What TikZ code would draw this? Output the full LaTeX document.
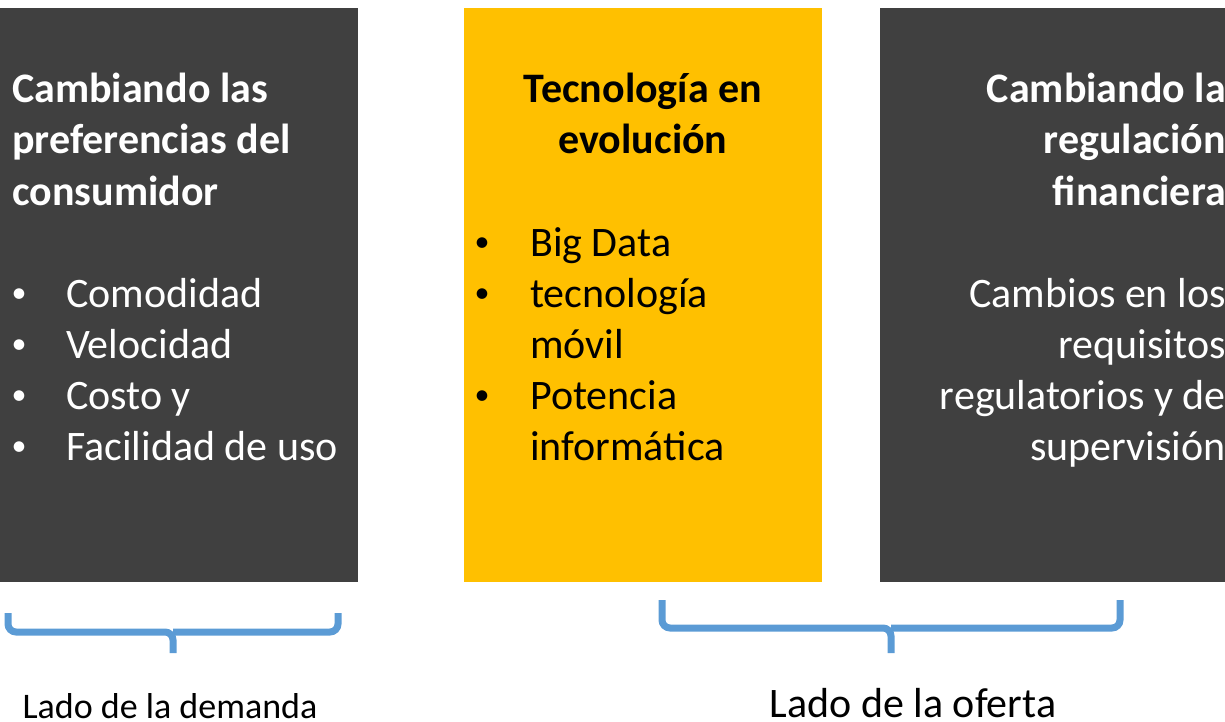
\documentclass[tikz,border=0pt]{standalone}
\usepackage{fontspec}
\setmainfont{Carlito}
\usepackage{tikz}
\usetikzlibrary{positioning}
\usetikzlibrary{calc}
\definecolor{gris}{HTML}{404040}
\definecolor{amarillo}{HTML}{FFC000}
\definecolor{azul}{HTML}{5B9BD5}
\tikzset{caja/.style={minimum width=358pt,minimum height=574pt,inner sep=0pt},
texto/.style={inner sep=0pt,font=\fontsize{42}{51}\selectfont},
titulo/.style={inner sep=0pt,font=\fontsize{42}{51}\selectfont\bfseries},
punto/.style={inner sep=0pt,font=\fontsize{30}{36}\selectfont,anchor=base},
llave/.style={draw=azul,line width=7pt,rounded corners=8pt}}

\begin{document}
\begin{tikzpicture}[x=1pt,y=-1pt]
\useasboundingbox (0,0) rectangle (1225,722);
\clip (0,0) rectangle (1225,722);
% las tres cajas
\node[caja,fill=gris] (demanda) at (179,295) {};
\node[caja,fill=amarillo] (tecno) at (643,295) {};
\node[caja,fill=gris] (regul) at (1059,295) {};
% consumidor
\foreach \t [count=\i] in {Cambiando las,preferencias del,consumidor}
  \node[titulo,white,anchor=base west] (dt\i) at (12,{52+51*\i}) {\t};
\foreach \t [count=\i] in {Comodidad,Velocidad,Costo y,Facilidad de uso} {
  \node[punto,white] (db\i) at (19,{251+51*\i}) {•};
  \node[texto,white,anchor=base west] (dl\i) at (66,{256+51*\i}) {\t};
}
% tecnologia
\foreach \t [count=\i] in {Tecnología en,evolución}
  \node[titulo,anchor=base] (tt\i) at (643,{52+51*\i}) {\t};
\foreach \t [count=\i] in {Big Data,tecnología,móvil,Potencia,informática}
  \node[texto,anchor=base west] (tl\i) at (530,{205+51*\i}) {\t};
\foreach \i in {1,2,4}
  \node[punto] (tb\i) at (482,{200+51*\i}) {•};
% regulacion
\foreach \t [count=\i] in {Cambiando la,regulación,financiera}
  \node[titulo,white,anchor=base east] (rt\i) at (1226,{52+51*\i}) {\t};
\foreach \t [count=\i] in {Cambios en los,requisitos,regulatorios y de,supervisión}
  \node[texto,white,anchor=base east] (rl\i) at (1226,{256+51*\i}) {\t};
% llaves
\coordinate (dpie) at (173,653);
\coordinate (opie) at (891,653);
\draw[llave] (8,613) |- (dpie |- 0,632) -- (dpie);
\draw[llave] (338,613) |- (dpie |- 0,632);
\draw[llave] (662,600) |- (opie |- 0,628) -- (opie);
\draw[llave] (1120,600) |- (opie |- 0,628);
\node[inner sep=0pt,font=\fontsize{36}{43}\selectfont,anchor=base] (ldem) at (170,718) {Lado de la demanda};
\node[texto,anchor=base] (lofe) at (913,717) {Lado de la oferta};
\end{tikzpicture}
\end{document}
